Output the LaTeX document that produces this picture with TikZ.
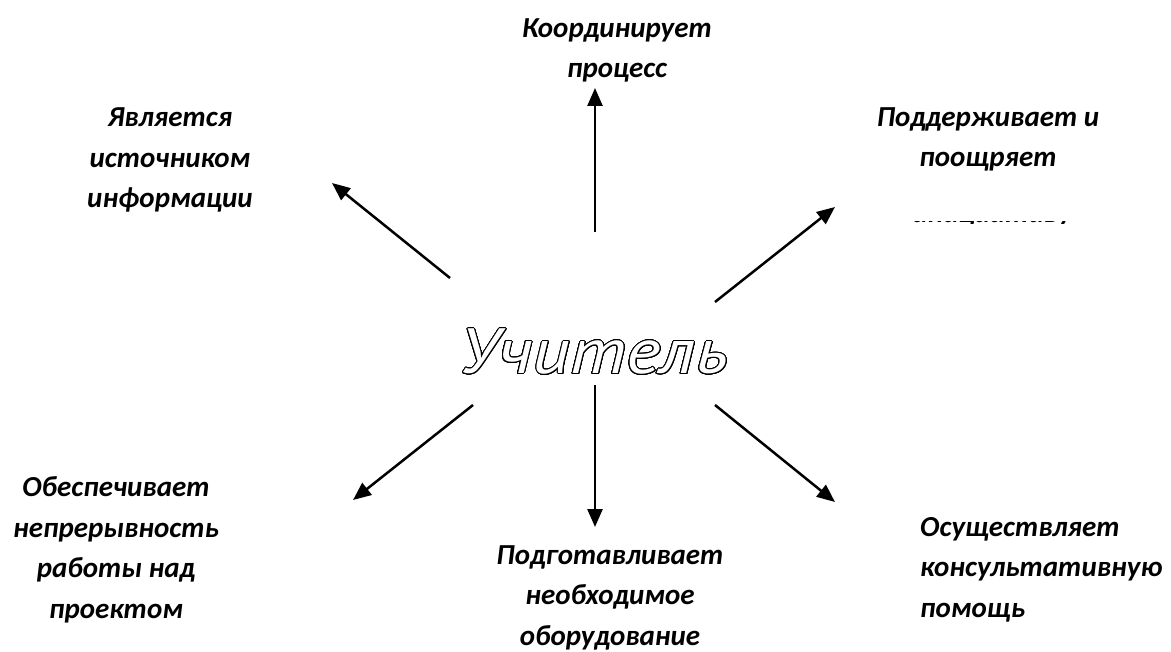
\documentclass[tikz,border=0pt]{standalone}
\usepackage{fontspec}
\setmainfont{Carlito}
\newfontfamily\teacherfont{PT Sans}
\usepackage[copies]{contour}
\contourlength{0.75pt}
\contournumber{32}
\usetikzlibrary{arrows.meta,positioning}
\tikzset{
  ray/.style={-{Triangle[length=18pt,width=15pt]}, line width=2.5pt},
  duty/.style={font=\fontsize{29}{40.5}\selectfont\bfseries\itshape, align=center, inner sep=0pt, anchor=base},
  teacher/.style={font=\teacherfont\fontsize{64}{66}\selectfont\itshape, inner sep=0pt, xscale=1.15},
}

\begin{document}
\begin{tikzpicture}[x=1pt, y=-1pt]
  \useasboundingbox (0,0) rectangle (1171,652);

  % Centre
  \node[teacher] (teach) at (594,352) {\contour{black}{\textcolor{white}{Учитель}}};

  % Roles (placed by the baseline of the last line)
  \node[duty] (coord) at (617,78) {Координирует\\процесс};
  \node[duty] (source) at (170,208) {Является\\источником\\информации};
  \node[duty] (support) at (988,167) {Поддерживает и\\поощряет};
  \node[duty] (contin) at (116,618) {Обеспечивает\\непрерывность\\работы над\\проектом};
  \node[duty] (equip) at (610,645) {Подготавливает\\необходимое\\оборудование};
  \node[duty, align=left, anchor=base west] (consult) at (920,617) {Осуществляет\\консультативную\\помощь};

  % Cut-off third line
  \begin{scope}
    \clip (880,221.2) rectangle (1100,223.4);
    \node[duty] (cut) at (992,223) {инициативу};
  \end{scope}

  % Arrow ends
  \coordinate (up0) at (595,232);   \coordinate (up1) at (595,88);
  \coordinate (ul0) at (450,278);   \coordinate (ul1) at (332,183);
  \coordinate (ur0) at (715,302);   \coordinate (ur1) at (835,207);
  \coordinate (dl0) at (473,405);   \coordinate (dl1) at (353,500);
  \coordinate (dn0) at (595,385);   \coordinate (dn1) at (595,527);
  \coordinate (dr0) at (715,405);   \coordinate (dr1) at (835,502);

  % Arrows
  \draw[ray] (up0) -- (up1);
  \draw[ray] (ul0) -- (ul1);
  \draw[ray] (ur0) -- (ur1);
  \draw[ray] (dl0) -- (dl1);
  \draw[ray] (dn0) -- (dn1);
  \draw[ray] (dr0) -- (dr1);
\end{tikzpicture}
\end{document}
